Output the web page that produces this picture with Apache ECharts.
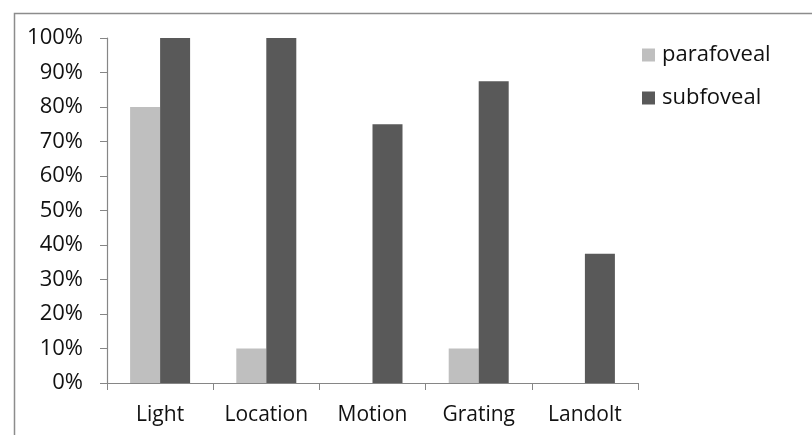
<!DOCTYPE html>
<html>
<head>
<meta charset="utf-8">
<script src="https://cdn.jsdelivr.net/npm/echarts@6/dist/echarts.min.js"></script>
<style>html,body{margin:0;padding:0;background:#fff;}#c{width:812px;height:435px;}</style>
</head>
<body>
<div id="c"></div>
<script>
const categories = ['Light', 'Location', 'Motion', 'Grating', 'Landolt'];
const parafoveal = [80, 10, 0, 10, 0];
const subfoveal = [100, 100, 75, 87.5, 37.5];
const yTicks = [0, 10, 20, 30, 40, 50, 60, 70, 80, 90, 100];

const chart = echarts.init(document.getElementById('c'), null, {renderer: 'canvas'});
const font = '"Open Sans", sans-serif';
chart.setOption({
  animation: false,
  backgroundColor: '#fff',
  graphic: [{
    type: 'rect', left: 12, top: 11, silent: true,
    shape: {width: 830, height: 460},
    style: {fill: 'none', stroke: '#8c8c8c', lineWidth: 1.5}
  }],
  grid: {left: 107, top: 38, right: 174, bottom: 52},
  legend: {
    orient: 'vertical', left: 637, top: 39,
    itemWidth: 13, itemHeight: 13, itemGap: 21,
    icon: 'rect',
    textStyle: {fontFamily: font, fontSize: 22, color: '#111', padding: [0, 0, 0, 2]},
    data: ['parafoveal', 'subfoveal']
  },
  xAxis: {
    type: 'category', data: categories,
    axisLine: {lineStyle: {color: '#868686', width: 1.2}},
    axisTick: {show: true, length: 7, lineStyle: {color: '#868686'}},
    axisLabel: {interval: 0, fontFamily: font, fontSize: 21, color: '#111', margin: 22}
  },
  yAxis: {
    type: 'value', min: yTicks[0], max: yTicks[yTicks.length - 1], interval: 10,
    axisLine: {show: true, lineStyle: {color: '#868686', width: 1.2}},
    axisTick: {show: true, length: 7, lineStyle: {color: '#868686'}},
    splitLine: {show: false},
    axisLabel: {fontFamily: font, fontSize: 22, color: '#111', margin: 24, formatter: v => v + '%'}
  },
  series: [
    {name: 'parafoveal', type: 'bar', data: parafoveal, barWidth: 30, barGap: '0%', itemStyle: {color: '#bfbfbf'}},
    {name: 'subfoveal', type: 'bar', data: subfoveal, barWidth: 30, barGap: '0%', itemStyle: {color: '#595959'}}
  ]
});
</script>
</body>
</html>
